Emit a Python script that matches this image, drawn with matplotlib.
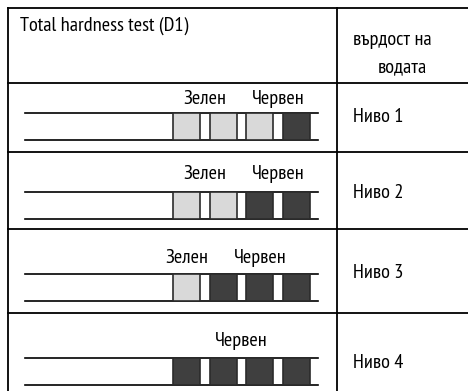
import matplotlib.pyplot as plt
from matplotlib.patches import Rectangle

plt.rcParams["font.family"] = ["PT Sans Narrow", "DejaVu Sans"]

# ---- data ----
header_left = "Total hardness test (D1)"
header_right = ["върдост на", "водата"]
levels = ["Ниво 1", "Ниво 2", "Ниво 3", "Ниво 4"]
# pad state per level: g = green (light), r = red (dark)
pads = [
    ["g", "g", "g", "r"],
    ["g", "g", "r", "r"],
    ["g", "r", "r", "r"],
    ["r", "r", "r", "r"],
]
# colour words above the strip, with position given as pad index
pad_labels = [
    [("Зелен", 0.5), ("Червен", 2.5)],
    [("Зелен", 0.5), ("Червен", 2.5)],
    [("Зелен", 0.0), ("Червен", 2.0)],
    [("Червен", 1.5)],
]

# ---- layout (pixels) ----
W, H = 468, 391
left_x, div_x, top_y = 8, 337, 8
row_edges = [83, 152, 229, 313]
strip_top = [113, 192, 274, 358]
strip_h = 27
label_y = [99.5, 174, 258, 341]
level_y = [116.5, 193, 273, 363]
strip_x0, strip_x1 = 25, 318
pad_x0, pad_pitch, pad_w = 173, 36.7, 27
colors = {"g": "#d9d9d9", "r": "#3f3f3f"}

fig = plt.figure(figsize=(W / 100, H / 100), dpi=100)
ax = fig.add_axes([0, 0, 1, 1])
ax.set_xlim(0, W)
ax.set_ylim(H, 0)
ax.axis("off")

lw_tab = 1.3
ax.plot([left_x, W], [top_y, top_y], color="black", lw=lw_tab)
ax.plot([left_x, left_x], [top_y, H], color="black", lw=lw_tab)
ax.plot([div_x, div_x], [top_y, H], color="black", lw=lw_tab)
for y in row_edges:
    ax.plot([left_x, W], [y, y], color="black", lw=lw_tab)

fs = 14.7
ax.text(20, 26, header_left, fontsize=fs, va="center", ha="left")
ax.text(353, 40, header_right[0], fontsize=fs, va="center", ha="left")
ax.text(378, 67, header_right[1], fontsize=fs, va="center", ha="left")

for i, lvl in enumerate(levels):
    yt = strip_top[i]
    yb = yt + strip_h
    for y in (yt, yb):
        ax.plot([strip_x0, strip_x1], [y, y], color="black", lw=1.2)
    for j, st in enumerate(pads[i]):
        x = pad_x0 + j * pad_pitch
        ax.add_patch(Rectangle((x, yt), pad_w, strip_h, facecolor=colors[st],
                               edgecolor="#2b2b2b", lw=1.2, zorder=3))
    for word, pos in pad_labels[i]:
        xc = pad_x0 + pos * pad_pitch + pad_w / 2
        ax.text(xc, label_y[i], word, fontsize=fs, ha="center", va="center")
    ax.text(353, level_y[i], lvl, fontsize=fs, ha="left", va="center")

fig.savefig("out.png", dpi=100)
